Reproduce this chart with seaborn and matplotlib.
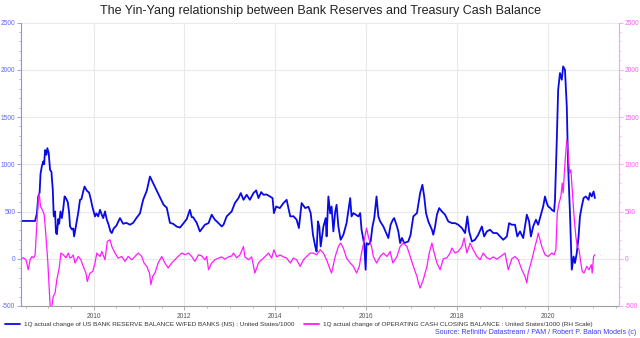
import numpy as np
import pandas as pd
import matplotlib
matplotlib.use('Agg')
import matplotlib.pyplot as plt
import seaborn as sns
from matplotlib.ticker import MultipleLocator, FixedLocator
from matplotlib.lines import Line2D

# ---------------- data ----------------
blue_years = [
    2008.40, 2008.71, 2008.75, 2008.78, 2008.81, 2008.83, 2008.86, 2008.89, 2008.91, 2008.93,
    2008.96, 2008.98, 2009.01, 2009.04, 2009.07, 2009.10, 2009.12, 2009.13, 2009.15, 2009.17,
    2009.19, 2009.22, 2009.24, 2009.27, 2009.30, 2009.33, 2009.36, 2009.39, 2009.43, 2009.46,
    2009.48, 2009.52, 2009.55, 2009.57, 2009.60, 2009.63, 2009.66, 2009.70, 2009.73, 2009.77,
    2009.80, 2009.85, 2009.90, 2009.94, 2009.97, 2010.03, 2010.06, 2010.10, 2010.14, 2010.18,
    2010.21, 2010.25, 2010.29, 2010.33, 2010.37, 2010.40, 2010.44, 2010.50, 2010.58, 2010.65,
    2010.72, 2010.80, 2010.87, 2010.94, 2011.02, 2011.09, 2011.17, 2011.24, 2011.28, 2011.31,
    2011.39, 2011.46, 2011.54, 2011.61, 2011.65, 2011.68, 2011.75, 2011.83, 2011.90, 2011.97,
    2012.05, 2012.12, 2012.16, 2012.19, 2012.27, 2012.34, 2012.45, 2012.53, 2012.60, 2012.67,
    2012.75, 2012.82, 2012.86, 2012.93, 2013.04, 2013.11, 2013.19, 2013.24, 2013.30, 2013.37,
    2013.44, 2013.52, 2013.58, 2013.63, 2013.69, 2013.74, 2013.81, 2013.88, 2013.94, 2013.97,
    2014.02, 2014.10, 2014.18, 2014.25, 2014.33, 2014.40, 2014.47, 2014.52, 2014.58, 2014.66,
    2014.73, 2014.78, 2014.83, 2014.88, 2014.91, 2014.94, 2014.97, 2015.00, 2015.06, 2015.11,
    2015.13, 2015.17, 2015.21, 2015.24, 2015.28, 2015.32, 2015.35, 2015.39, 2015.44, 2015.50,
    2015.57, 2015.65, 2015.68, 2015.72, 2015.76, 2015.83, 2015.87, 2015.90, 2015.94, 2015.96,
    2015.99, 2016.01, 2016.05, 2016.10, 2016.14, 2016.18, 2016.23, 2016.27, 2016.31, 2016.38,
    2016.46, 2016.49, 2016.54, 2016.59, 2016.62, 2016.68, 2016.71, 2016.75, 2016.79, 2016.84,
    2016.93, 2016.98, 2017.04, 2017.12, 2017.19, 2017.24, 2017.28, 2017.32, 2017.37, 2017.45,
    2017.48, 2017.52, 2017.56, 2017.61, 2017.67, 2017.74, 2017.81, 2017.89, 2017.96, 2018.03,
    2018.11, 2018.18, 2018.23, 2018.27, 2018.33, 2018.40, 2018.47, 2018.55, 2018.60, 2018.66,
    2018.73, 2018.80, 2018.88, 2018.95, 2019.02, 2019.10, 2019.15, 2019.21, 2019.28, 2019.33,
    2019.39, 2019.46, 2019.54, 2019.59, 2019.63, 2019.68, 2019.74, 2019.79, 2019.85, 2019.90,
    2019.94, 2019.98, 2020.01, 2020.05, 2020.09, 2020.14, 2020.16, 2020.20, 2020.23, 2020.27,
    2020.31, 2020.34, 2020.38, 2020.42, 2020.45, 2020.49, 2020.53, 2020.57, 2020.60, 2020.64,
    2020.68, 2020.71, 2020.75, 2020.79, 2020.84, 2020.90, 2020.93, 2020.97, 2021.01, 2021.04,
]
blue_vals = [
    400, 400, 480, 660, 700, 900, 980, 1030, 1000, 1150,
    1100, 1170, 1120, 940, 920, 730, 460, 448, 500, 275,
    260, 420, 370, 500, 430, 530, 660, 640, 600, 486,
    342, 310, 320, 236, 320, 400, 486, 624, 630, 712,
    764, 720, 700, 624, 553, 448, 480, 448, 518, 465,
    430, 500, 413, 360, 289, 272, 320, 350, 430, 370,
    380, 360, 380, 430, 480, 624, 720, 870, 830, 800,
    720, 650, 571, 540, 450, 380, 370, 340, 330, 370,
    420, 518, 440, 440, 380, 289, 360, 377, 466, 413,
    377, 342, 360, 448, 501, 589, 642, 695, 624, 677,
    624, 695, 723, 642, 705, 677, 680, 660, 642, 483,
    553, 536, 589, 624, 448, 450, 413, 325, 589, 536,
    550, 483, 254, 130, 77, 395, 340, 130, 340, 430,
    236, 659, 480, 553, 289, 500, 571, 340, 201, 254,
    377, 642, 448, 483, 470, 448, 483, 307, 201, 150,
    -116, 166, 150, 180, 340, 430, 659, 448, 395, 342,
    254, 219, 360, 413, 430, 342, 289, 166, 220, 166,
    183, 254, 448, 483, 695, 783, 659, 483, 395, 307,
    254, 342, 466, 536, 500, 466, 395, 377, 377, 360,
    325, 272, 448, 289, 183, 201, 254, 342, 236, 289,
    307, 272, 272, 236, 201, 236, 377, 360, 360, 236,
    289, 219, 466, 395, 236, 342, 413, 360, 466, 553,
    659, 589, 553, 540, 518, 501, 620, 1259, 1788, 1965,
    1894, 2035, 2000, 1611, 977, 483, -116, 24, -45, 60,
    236, 448, 553, 642, 659, 624, 695, 659, 712, 642,
]

pink_years = [
    2008.40, 2008.45, 2008.51, 2008.56, 2008.60, 2008.64, 2008.68, 2008.71, 2008.75, 2008.78,
    2008.80, 2008.83, 2008.87, 2008.91, 2008.94, 2008.99, 2009.02, 2009.05, 2009.09, 2009.11,
    2009.15, 2009.19, 2009.24, 2009.28, 2009.33, 2009.39, 2009.44, 2009.48, 2009.52, 2009.55,
    2009.59, 2009.66, 2009.72, 2009.77, 2009.83, 2009.86, 2009.92, 2009.98, 2010.03, 2010.07,
    2010.14, 2010.18, 2010.25, 2010.30, 2010.36, 2010.40, 2010.47, 2010.54, 2010.62, 2010.69,
    2010.76, 2010.84, 2010.91, 2010.98, 2011.06, 2011.11, 2011.17, 2011.23, 2011.26, 2011.30,
    2011.35, 2011.42, 2011.50, 2011.57, 2011.64, 2011.72, 2011.79, 2011.86, 2011.94, 2012.01,
    2012.09, 2012.16, 2012.23, 2012.31, 2012.38, 2012.45, 2012.49, 2012.53, 2012.60, 2012.67,
    2012.75, 2012.82, 2012.89, 2012.97, 2013.04, 2013.08, 2013.15, 2013.22, 2013.30, 2013.33,
    2013.41, 2013.48, 2013.55, 2013.63, 2013.70, 2013.77, 2013.85, 2013.92, 2013.97, 2014.03,
    2014.10, 2014.18, 2014.25, 2014.33, 2014.40, 2014.47, 2014.55, 2014.62, 2014.69, 2014.77,
    2014.84, 2014.91, 2014.99, 2015.06, 2015.13, 2015.21, 2015.24, 2015.32, 2015.39, 2015.44,
    2015.50, 2015.57, 2015.65, 2015.72, 2015.79, 2015.85, 2015.90, 2015.96, 2016.01, 2016.05,
    2016.09, 2016.12, 2016.16, 2016.23, 2016.31, 2016.38, 2016.46, 2016.53, 2016.59, 2016.68,
    2016.75, 2016.82, 2016.90, 2016.97, 2017.04, 2017.12, 2017.15, 2017.19, 2017.26, 2017.34,
    2017.39, 2017.45, 2017.50, 2017.56, 2017.63, 2017.70, 2017.78, 2017.85, 2017.89, 2017.96,
    2018.03, 2018.11, 2018.16, 2018.22, 2018.29, 2018.36, 2018.44, 2018.51, 2018.58, 2018.66,
    2018.73, 2018.80, 2018.88, 2018.95, 2019.06, 2019.13, 2019.21, 2019.28, 2019.35, 2019.43,
    2019.50, 2019.54, 2019.57, 2019.65, 2019.72, 2019.76, 2019.79, 2019.83, 2019.87, 2019.94,
    2020.01, 2020.09, 2020.14, 2020.18, 2020.21, 2020.25, 2020.29, 2020.32, 2020.34, 2020.38,
    2020.42, 2020.45, 2020.48, 2020.51, 2020.54, 2020.58, 2020.62, 2020.65, 2020.69, 2020.73,
    2020.76, 2020.80, 2020.86, 2020.91, 2020.96, 2020.98, 2021.01, 2021.04,
]
pink_vals = [
    0, 10, -10, -116, -11, 24, 10, 40, 380, 620,
    690, 553, 518, 470, 300, -30, -300, -575, -469, -400,
    -363, -220, -100, 60, 42, 10, 60, 7, 20, 40,
    -45, 24, -11, -81, -151, -240, -151, -134, -45, 60,
    24, 77, -11, 183, 201, 130, 60, 7, 24, -28,
    24, -11, 24, 60, 24, -45, -81, -151, -275, -187,
    -150, -45, 24, -45, -98, -45, -11, 24, 60, 42,
    60, 24, -28, 42, 30, -11, 24, -116, -45, -11,
    7, 20, -5, 20, 30, 60, 10, 40, 130, 20,
    -10, 20, -151, -45, -11, 20, 60, 7, 95, 20,
    40, 20, 7, -45, 7, -11, -81, -11, 24, 60,
    60, 42, 95, 60, -11, -116, -151, 24, 130, 166,
    112, 7, -45, -81, -151, -81, 60, 201, 325, 236,
    166, 130, 24, -45, 24, 60, 24, 77, -45, 24,
    130, 166, 130, 24, -80, -187, -250, -310, -222, -81,
    60, 166, 60, -45, -116, 0, 10, 60, 113, 60,
    77, 130, 219, 60, 166, 95, 24, -11, 60, 10,
    -5, 20, -5, 20, 60, -116, 0, 24, -10, -116,
    -187, -257, -151, -11, 130, 201, 272, 201, 130, 42,
    24, 60, 42, 95, 483, 589, 659, 801, 695, 1012,
    1259, 1118, 907, 942, 730, 448, 236, 130, 95, -45,
    -134, -151, -81, -116, -63, -151, 24, 42,
]

year_ticks = [2010, 2012, 2014, 2016, 2018, 2020]
year_labels = ['2010', '2012', '2014', '2016', '2018', '2020']
value_ticks = [-500, 0, 500, 1000, 1500, 2000, 2500]

title = 'The Yin-Yang relationship between Bank Reserves and Treasury Cash Balance'
blue_label = '1Q actual change of US BANK RESERVE BALANCE W/FED BANKS (NS) : United States/1000'
pink_label = '1Q actual change of OPERATING CASH CLOSING BALANCE : United States/1000 (RH Scale)'
source = 'Source: Refinitiv Datastream / PAM / Robert P. Balan Models (c)'

# ---------------- styling ----------------
sns.set_style('white')
plt.rcParams['font.family'] = ['Liberation Sans', 'DejaVu Sans']

BLUE = '#0a0ae6'
PINK = '#ff1aff'
LBLUE = '#6262ff'
LPINK = '#ff5cff'

fig = plt.figure(figsize=(6.4, 3.38), dpi=100)
fig.patch.set_facecolor('white')
ax = fig.add_axes([21 / 640, 1 - 306 / 338, (619 - 21) / 640, (306 - 22.5) / 338])
ax2 = ax.twinx()

sns.lineplot(x=blue_years, y=blue_vals, ax=ax, color=BLUE, lw=1.3, estimator=None)
sns.lineplot(x=pink_years, y=pink_vals, ax=ax2, color=PINK, lw=0.9, estimator=None)

for a in (ax, ax2):
    a.set_ylim(-500, 2500)
    a.set_xlim(2008.4, 2021.57)
    a.set_xlabel('')
    a.set_ylabel('')
    a.yaxis.set_major_locator(FixedLocator(value_ticks))
    a.yaxis.set_minor_locator(MultipleLocator(100))

ax.xaxis.set_major_locator(FixedLocator(year_ticks))
ax.set_xticklabels(year_labels)
ax.xaxis.set_minor_locator(MultipleLocator(0.5))
ax.set_yticklabels([str(v) for v in value_ticks])
ax2.set_yticklabels([str(v) for v in value_ticks])

ax.grid(True, which='major', color='#e9e9e9', lw=0.8)
ax.set_axisbelow(True)

ax.spines['top'].set_visible(False)
ax2.spines['top'].set_visible(False)
ax.spines['right'].set_visible(False)
ax2.spines['left'].set_visible(False)
ax2.spines['bottom'].set_visible(False)
ax.spines['left'].set_color('#8c8cff')
ax2.spines['right'].set_color('#ff99ff')
ax.spines['bottom'].set_color('#a0a0a0')
for s in (ax.spines['left'], ax2.spines['right'], ax.spines['bottom']):
    s.set_linewidth(0.8)

ax.tick_params(axis='y', which='major', colors='#8c8cff', labelcolor=LBLUE, labelsize=4.8,
               length=3, width=0.6, pad=1, left=True)
ax.tick_params(axis='y', which='minor', colors='#8c8cff', length=1.5, width=0.5, left=True)
ax2.tick_params(axis='y', which='major', colors='#ff99ff', labelcolor=LPINK, labelsize=4.8,
                length=3, width=0.6, pad=1, right=True)
ax2.tick_params(axis='y', which='minor', colors='#ff99ff', length=1.5, width=0.5, right=True)
ax.tick_params(axis='x', which='major', colors='#a0a0a0', labelcolor='#555555', labelsize=4.8,
               length=3, width=0.6, pad=2, bottom=True)
ax.tick_params(axis='x', which='minor', colors='#a0a0a0', length=1.5, width=0.5, bottom=True)

fig.text(0.5, 1 - 11 / 338, title, ha='center', va='center', fontsize=9, color='#222222')

handles = [Line2D([], [], color=BLUE, lw=1.3), Line2D([], [], color=PINK, lw=1.3)]
leg = fig.legend(handles, [blue_label, pink_label], loc='center left',
                 bbox_to_anchor=(5 / 640, 1 - 324 / 338), ncol=2, frameon=False,
                 fontsize=4.55, handlelength=2.4, handletextpad=0.6, columnspacing=1.5,
                 borderaxespad=0, borderpad=0)
for t in leg.get_texts():
    t.set_color('#333333')

fig.text(636 / 640, 1 - 333 / 338, source, ha='right', va='center', fontsize=5.0, color='#3a3aff')

fig.savefig('out.png', dpi=100, facecolor='white')
